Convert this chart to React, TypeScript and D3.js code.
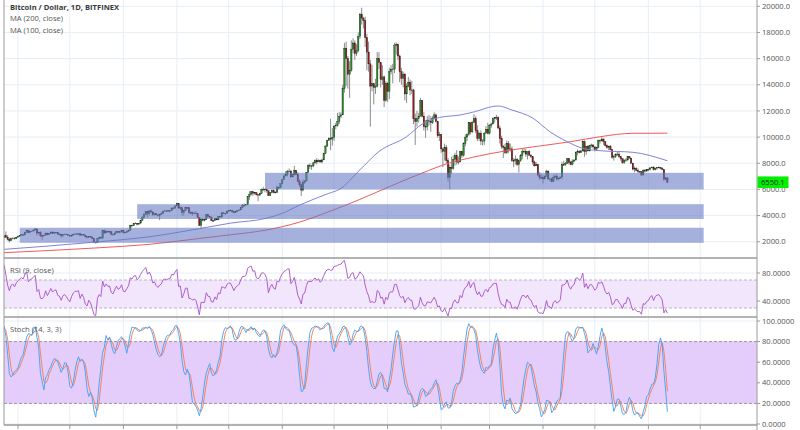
import React, { useMemo } from 'react';
import * as d3 from 'd3';

// ---------------- DATA ----------------
const title = 'Bitcoin / Dollar, 1D, BITFINEX';
const legendLabels = ['MA (200, close)', 'MA (100, close)'];
const rsiLabel = 'RSI (9, close)';
const stochLabel = 'Stoch (14, 3, 3)';

// month keys, each close/high/low row starts on the 1st of that month (daily candles)
const months = ['2017-05', '2017-06', '2017-07', '2017-08', '2017-09', '2017-10', '2017-11', '2017-12',
  '2018-01', '2018-02', '2018-03', '2018-04', '2018-05', '2018-06'];

const closes: number[][] = [
  [1420, 1452, 1490, 1537, 1508, 1545, 1555, 1690, 1720, 1770, 1840, 1700, 1760, 1770, 1710, 1740, 1810, 1880, 1970, 2050, 2045, 2140, 2290, 2470, 2350, 2190, 2080, 2240, 2280, 2230, 2350],
  [2420, 2490, 2540, 2520, 2700, 2870, 2700, 2800, 2820, 2900, 2980, 2660, 2720, 2470, 2450, 2500, 2660, 2530, 2620, 2740, 2650, 2700, 2710, 2590, 2570, 2470, 2560, 2580, 2540, 2480],
  [2430, 2510, 2570, 2600, 2600, 2610, 2500, 2560, 2510, 2380, 2340, 2410, 2360, 2230, 1970, 1930, 2230, 2320, 2270, 2840, 2670, 2810, 2740, 2760, 2580, 2530, 2670, 2800, 2720, 2760, 2880],
  [2720, 2710, 2800, 2890, 3250, 3220, 3380, 3420, 3340, 3420, 3630, 3850, 4060, 4310, 4160, 4360, 4280, 4090, 4150, 4050, 4000, 4090, 4140, 4320, 4360, 4350, 4380, 4380, 4580, 4570, 4740],
  [4920, 4580, 4600, 4230, 4370, 4600, 4600, 4230, 4230, 4160, 4190, 4150, 3870, 3250, 3690, 3680, 3680, 4080, 3910, 3890, 3620, 3610, 3790, 3670, 3930, 3890, 4210, 4190, 4160, 4340],
  [4400, 4400, 4320, 4220, 4330, 4370, 4430, 4610, 4780, 4780, 4830, 5440, 5640, 5820, 5700, 5760, 5600, 5570, 5700, 6000, 6010, 5980, 5900, 5520, 5750, 5900, 5780, 5750, 6150, 6130, 6450],
  [6750, 7030, 7160, 7380, 7400, 6950, 7120, 7460, 7140, 6620, 6360, 5950, 6560, 6640, 7300, 7820, 7790, 7800, 8030, 8200, 8100, 8230, 8100, 8250, 8750, 9300, 9750, 9900, 9850, 9950],
  [10850, 10900, 11200, 11600, 11700, 13700, 16800, 16000, 14800, 15100, 16700, 17200, 16400, 16600, 17700, 19400, 19100, 18900, 17600, 16500, 15600, 13900, 14100, 13800, 13900, 16000, 15700, 14400, 14600, 12800, 14100],
  [13500, 15000, 15200, 15200, 17000, 17100, 16200, 15000, 14500, 14800, 13300, 13900, 14200, 13600, 13600, 11400, 11200, 11400, 11600, 12800, 11600, 10800, 10800, 11300, 11200, 11100, 11400, 11700, 11200, 10100, 10200],
  [9100, 8900, 9200, 8200, 6900, 7700, 7600, 8300, 8600, 8100, 8100, 8900, 8600, 9500, 10000, 10200, 11100, 10400, 11100, 11400, 10500, 9900, 10300, 9700, 9700, 10300, 10600, 10300],
  [10900, 11000, 11400, 11500, 11500, 10700, 9900, 9300, 9200, 8800, 9500, 9100, 9100, 8200, 8200, 8300, 7900, 8200, 8600, 8900, 8900, 8700, 8900, 8600, 8500, 8100, 7800, 7900, 7100, 6900, 6900],
  [6800, 7000, 7400, 6800, 6800, 6600, 6900, 7000, 6800, 6850, 6950, 7900, 7900, 8000, 8350, 8050, 7900, 8150, 8250, 8850, 8900, 8800, 8950, 9650, 8900, 9300, 8950, 9350, 9400, 9250],
  [9050, 9200, 9750, 9700, 9850, 9650, 9350, 9200, 9300, 9050, 8450, 8500, 8700, 8700, 8500, 8350, 8050, 8250, 8250, 8500, 8400, 8000, 7550, 7600, 7450, 7350, 7350, 7100, 7450, 7400, 7500],
  [7530, 7650, 7700, 7500, 7630, 7670, 7690, 7620, 7520, 6780, 6880, 6550.1],
];

const highs: number[][] = [
  [1450, 1480, 1520, 1560, 1560, 1570, 1600, 1710, 1780, 1800, 1870, 1860, 1790, 1800, 1780, 1760, 1830, 1910, 2000, 2090, 2110, 2180, 2300, 2520, 2790, 2500, 2300, 2310, 2330, 2340, 2380],
  [2460, 2500, 2560, 2560, 2720, 2910, 2900, 2820, 2850, 2930, 3010, 2990, 2780, 2800, 2520, 2540, 2680, 2690, 2650, 2770, 2800, 2730, 2750, 2730, 2660, 2620, 2580, 2620, 2600, 2580],
  [2500, 2530, 2610, 2640, 2630, 2630, 2620, 2570, 2580, 2520, 2420, 2430, 2440, 2380, 2240, 2010, 2250, 2380, 2400, 2900, 2940, 2860, 2830, 2790, 2780, 2620, 2690, 2830, 2820, 2770, 2900],
  [2900, 2760, 2810, 2900, 3300, 3300, 3420, 3490, 3430, 3440, 3680, 3950, 4190, 4350, 4350, 4400, 4480, 4350, 4190, 4180, 4090, 4150, 4250, 4360, 4450, 4380, 4400, 4400, 4630, 4640, 4760],
  [4980, 4940, 4700, 4600, 4420, 4650, 4660, 4650, 4330, 4300, 4300, 4340, 4170, 3900, 3800, 3840, 3750, 4100, 4100, 4000, 3900, 3700, 3800, 3800, 3960, 3960, 4240, 4250, 4200, 4380],
  [4420, 4470, 4440, 4350, 4360, 4420, 4470, 4620, 4880, 4920, 4880, 5450, 5850, 5880, 5860, 5800, 5780, 5600, 5730, 6070, 6200, 6080, 6060, 5900, 5760, 5980, 6000, 5880, 6300, 6220, 6470],
  [6780, 7150, 7400, 7500, 7600, 7500, 7200, 7800, 7470, 7300, 6800, 6480, 6780, 6700, 7340, 7930, 8000, 7890, 8100, 8300, 8400, 8300, 8280, 8350, 8800, 9400, 9800, 9990, 11400, 10700],
  [10900, 11100, 11850, 11900, 11900, 14000, 17200, 17300, 16200, 15800, 17400, 17550, 17400, 17100, 18000, 19500, 19891, 19200, 19200, 17900, 17300, 15900, 15500, 14100, 14450, 16500, 16500, 15700, 15500, 14700, 14300],
  [14200, 15300, 15500, 15600, 17200, 17250, 17150, 16300, 15300, 15000, 14900, 14100, 14600, 14400, 14300, 13700, 11800, 12000, 11850, 13000, 12800, 11900, 11300, 11600, 11700, 11600, 11600, 11900, 11800, 11250, 10400],
  [10200, 9200, 9500, 9400, 8400, 7900, 8500, 8600, 8800, 9000, 8500, 8950, 8950, 9600, 10200, 10300, 11150, 11100, 11250, 11750, 11600, 10900, 10400, 10500, 9850, 10400, 10850, 11100],
  [11000, 11100, 11500, 11500, 11700, 11600, 10900, 10100, 9400, 9500, 9750, 9700, 9500, 9300, 8400, 8600, 8400, 8300, 8700, 9100, 9150, 9100, 8900, 9000, 8700, 8500, 8200, 8100, 7950, 7300, 7200],
  [7100, 7100, 7500, 7450, 6900, 6900, 7100, 7150, 7200, 6900, 6970, 8100, 8200, 8100, 8400, 8400, 8200, 8300, 8300, 8900, 9050, 9000, 9000, 9750, 9750, 9300, 9400, 9400, 9500, 9450],
  [9300, 9250, 9800, 9800, 9990, 9900, 9650, 9450, 9350, 9400, 9050, 8650, 8750, 8880, 8850, 8520, 8380, 8280, 8400, 8550, 8550, 8400, 8050, 7750, 7700, 7600, 7400, 7400, 7550, 7550, 7550],
  [7600, 7700, 7750, 7780, 7650, 7700, 7750, 7720, 7700, 7520, 6950, 6900],
];

const lows: number[][] = [
  [1380, 1410, 1440, 1480, 1480, 1500, 1530, 1540, 1660, 1700, 1740, 1680, 1690, 1730, 1650, 1690, 1720, 1800, 1860, 1960, 2000, 2030, 2140, 2290, 2300, 2100, 1950, 2060, 2180, 2150, 2200],
  [2300, 2400, 2460, 2470, 2510, 2690, 2640, 2680, 2760, 2800, 2880, 2450, 2620, 2350, 2150, 2400, 2490, 2500, 2510, 2610, 2600, 2590, 2680, 2530, 2480, 2300, 2370, 2500, 2510, 2450],
  [2400, 2400, 2500, 2560, 2560, 2580, 2480, 2470, 2500, 2330, 2250, 2300, 2320, 2200, 1950, 1850, 1920, 2180, 2240, 2260, 2620, 2650, 2700, 2700, 2480, 2450, 2520, 2660, 2700, 2620, 2700],
  [2620, 2650, 2680, 2780, 2860, 3160, 3200, 3370, 3250, 3320, 3400, 3620, 3820, 4050, 3850, 4000, 4200, 3980, 4000, 4030, 3930, 3650, 4090, 4130, 4300, 4300, 4330, 4250, 4340, 4500, 4550],
  [4700, 4500, 4400, 4000, 4000, 4340, 4500, 4110, 4100, 4000, 4130, 4100, 3800, 3200, 2970, 3560, 3550, 3660, 3850, 3850, 3600, 3520, 3580, 3660, 3670, 3860, 3880, 4150, 4050, 4150],
  [4280, 4340, 4200, 4170, 4180, 4320, 4360, 4420, 4570, 4700, 4780, 4820, 5200, 5550, 5500, 5600, 5530, 5100, 5500, 5640, 5890, 5780, 5750, 5500, 5500, 5700, 5700, 5700, 5720, 6000, 6100],
  [6400, 6750, 7000, 7000, 7300, 6900, 6960, 7050, 7080, 6580, 6200, 5500, 5850, 6420, 6640, 7300, 7550, 7500, 7700, 7950, 7900, 8100, 8050, 8000, 8250, 8700, 9350, 9700, 9000, 9350],
  [9700, 10600, 10800, 11000, 11450, 11700, 13400, 13900, 13700, 13000, 15000, 16400, 15900, 16200, 16500, 17500, 18600, 18300, 16900, 15100, 15000, 10800, 13500, 12500, 13300, 13800, 15200, 13800, 14000, 12300, 12700],
  [12700, 12900, 14800, 14100, 14900, 16300, 15900, 14200, 14000, 13800, 12800, 12600, 13800, 13200, 13300, 11000, 9400, 10800, 11100, 11600, 11500, 10500, 9950, 10500, 10900, 10400, 11000, 11500, 11100, 9950, 9700],
  [8800, 7700, 8200, 8000, 6600, 6000, 7200, 7500, 7800, 7900, 7900, 8100, 8400, 8500, 9300, 9700, 10100, 10200, 10300, 11100, 10300, 9700, 9700, 9400, 9350, 9400, 10300, 10200],
  [10200, 10700, 11000, 11100, 11300, 10600, 9500, 9100, 8400, 8700, 8700, 8800, 8900, 8100, 7700, 7900, 7800, 7300, 8100, 8300, 8800, 8500, 8300, 8600, 8400, 7900, 7750, 7800, 7000, 6700, 6800],
  [6450, 6800, 7000, 6750, 6600, 6550, 6600, 6900, 6650, 6700, 6850, 6800, 7800, 7800, 7950, 7900, 7850, 7850, 8100, 8200, 8600, 8750, 8800, 8900, 8500, 8650, 8900, 8900, 9200, 9100],
  [8900, 8950, 9150, 9500, 9700, 9400, 9250, 9100, 9000, 9000, 8350, 8200, 8400, 8550, 8400, 8200, 7950, 7950, 8100, 8200, 8350, 7950, 7450, 7300, 7400, 7250, 7300, 7050, 7080, 7300, 7350],
  [7400, 7450, 7600, 7450, 7450, 7500, 7650, 7550, 7480, 6650, 6700, 6500],
];
const firstOpen = 1348;

// moving averages (date, value)
const ma200Points: [string, number][] = [
  ['2017-05-20', 1140], ['2017-07-18', 1540], ['2017-08-16', 1800], ['2017-09-14', 2250], ['2017-10-02', 2530],
  ['2017-10-23', 2900], ['2017-11-11', 3500], ['2017-11-28', 4300], ['2017-12-16', 5240], ['2018-01-02', 6210],
  ['2018-01-21', 7250], ['2018-02-05', 7990], ['2018-02-19', 8450], ['2018-03-11', 8960], ['2018-03-30', 9320],
  ['2018-04-17', 9650], ['2018-05-04', 10030], ['2018-05-23', 10290], ['2018-06-12', 10300],
];
const ma100Points: [string, number][] = [
  ['2017-05-20', 1380], ['2017-07-18', 2000], ['2017-08-16', 2380], ['2017-09-14', 3000], ['2017-10-02', 3420],
  ['2017-10-23', 3800], ['2017-11-01', 4170], ['2017-11-11', 4800], ['2017-11-28', 5700], ['2017-12-04', 6000],
  ['2017-12-16', 7500], ['2017-12-27', 8900], ['2018-01-12', 10030], ['2018-01-21', 11000], ['2018-01-31', 11500],
  ['2018-02-12', 11690], ['2018-02-19', 11890], ['2018-03-06', 12380], ['2018-03-14', 12070], ['2018-03-26', 11460],
  ['2018-04-05', 10410], ['2018-04-15', 9650], ['2018-04-24', 9140], ['2018-05-04', 8960], ['2018-05-23', 8840],
  ['2018-06-12', 8190],
];

// support zones: [from, to, low, high]
const supportZones: [string, string, number, number][] = [
  ['2017-10-22', '2018-07-03', 6000, 7270],
  ['2017-08-09', '2018-07-03', 3740, 4870],
  ['2017-06-02', '2018-07-03', 1920, 3070],
];

const priceTicks = [2000, 4000, 6000, 8000, 10000, 12000, 14000, 16000, 18000, 20000];
const rsiTicks = [40, 80];
const rsiBand = [30, 70];
const stochTicks = [0, 20, 40, 60, 80, 100];
const stochBand = [20, 80];
const lastPrice = 6550.1;

// ---------------- HELPERS ----------------
const parseDay = (s: string) => {
  const [y, m, d] = s.split('-').map(Number);
  return new Date(Date.UTC(y, m - 1, d));
};

type Candle = { date: Date; o: number; h: number; l: number; c: number };

function buildCandles(): Candle[] {
  const out: Candle[] = [];
  let prev = firstOpen;
  months.forEach((mk, mi) => {
    const [y, m] = mk.split('-').map(Number);
    closes[mi].forEach((c, di) => {
      const o = prev;
      const h = Math.max(highs[mi][di], o, c);
      const l = Math.min(lows[mi][di], o, c);
      out.push({ date: new Date(Date.UTC(y, m - 1, di + 1)), o, h, l, c });
      prev = c;
    });
  });
  return out;
}

function rsiCalc(cl: number[], n: number): (number | null)[] {
  const out: (number | null)[] = cl.map(() => null);
  let ag = 0, al = 0;
  for (let i = 1; i < cl.length; i++) {
    const ch = cl[i] - cl[i - 1];
    const g = Math.max(ch, 0), l = Math.max(-ch, 0);
    if (i <= n) {
      ag += g / n; al += l / n;
      if (i === n) out[i] = al === 0 ? 100 : 100 - 100 / (1 + ag / al);
    } else {
      ag = (ag * (n - 1) + g) / n;
      al = (al * (n - 1) + l) / n;
      out[i] = al === 0 ? 100 : 100 - 100 / (1 + ag / al);
    }
  }
  return out;
}

function sma(arr: (number | null)[], n: number): (number | null)[] {
  return arr.map((_, i) => {
    if (i < n - 1) return null;
    const w = arr.slice(i - n + 1, i + 1);
    if (w.some((v) => v == null)) return null;
    return (w as number[]).reduce((a, b) => a + b, 0) / n;
  });
}

function stochCalc(cs: Candle[], n: number, ks: number, ds: number) {
  const raw: (number | null)[] = cs.map((c, i) => {
    if (i < n - 1) return null;
    const w = cs.slice(i - n + 1, i + 1);
    const hh = d3.max(w, (d) => d.h)!;
    const ll = d3.min(w, (d) => d.l)!;
    return hh === ll ? 50 : (100 * (c.c - ll)) / (hh - ll);
  });
  const k = sma(raw, ks);
  const d = sma(k, ds);
  return { k, d };
}

// ---------------- LAYOUT ----------------
const W = 800, H = 430;
const LEFT = 4, AXIS_X = 757;
const MAIN_BOTTOM = 258, RSI_BOTTOM = 317, STOCH_BOTTOM = 425;
const FONT = '"Open Sans", "Liberation Sans", Arial, sans-serif';

export default function App() {
  const model = useMemo(() => {
    const candles = buildCandles();
    const x = d3.scaleUtc().domain([new Date(Date.UTC(2017, 5, 1)), new Date(Date.UTC(2018, 6, 1))]).range([18, 700.2]);
    const y = d3.scaleLinear().domain([0, 20000]).range([267.9, 6.3]);
    const yR = d3.scaleLinear().domain([40, 80]).range([301, 273]);
    const yS = d3.scaleLinear().domain([0, 100]).range([424, 321]);
    const rsi = rsiCalc(candles.map((c) => c.c), 9);
    const st = stochCalc(candles, 14, 3, 3);
    const monthLines = d3.utcMonth.range(new Date(Date.UTC(2017, 5, 1)), new Date(Date.UTC(2018, 7, 1)));
    return { candles, x, y, yR, yS, rsi, st, monthLines };
  }, []);

  const { candles, x, y, yR, yS, rsi, st, monthLines } = model;

  const maLine = d3.line<[string, number]>()
    .x((d) => x(parseDay(d[0])))
    .y((d) => y(d[1]))
    .curve(d3.curveMonotoneX);

  const idxLine = (vals: (number | null)[], sc: d3.ScaleLinear<number, number>) =>
    d3.line<number | null>()
      .defined((v) => v != null)
      .x((_, i) => x(candles[i].date))
      .y((v) => sc(v as number))(vals) || '';

  const gridColor = '#e7eef6';
  const frame = '#9a9a9a';
  const bodyW = 1.4;

  return (
    <svg width={W} height={H} style={{ position: 'fixed', left: 0, top: 0, background: '#fff' }} fontFamily={FONT}>
      <defs>
        <clipPath id="cMain"><rect x={LEFT} y={0} width={AXIS_X - LEFT} height={MAIN_BOTTOM} /></clipPath>
        <clipPath id="cRsi"><rect x={LEFT} y={MAIN_BOTTOM} width={AXIS_X - LEFT} height={RSI_BOTTOM - MAIN_BOTTOM} /></clipPath>
        <clipPath id="cSt"><rect x={LEFT} y={RSI_BOTTOM} width={AXIS_X - LEFT} height={STOCH_BOTTOM - RSI_BOTTOM} /></clipPath>
      </defs>
      <rect x={0} y={0} width={W} height={H} fill="#fff" />

      {/* grid */}
      {monthLines.map((m, i) => (
        <line key={'v' + i} x1={x(m)} x2={x(m)} y1={0} y2={STOCH_BOTTOM} stroke={gridColor} strokeWidth={1} />
      ))}
      {priceTicks.map((t) => (
        <line key={'h' + t} x1={LEFT} x2={AXIS_X} y1={y(t)} y2={y(t)} stroke={gridColor} />
      ))}
      {rsiTicks.map((t) => (
        <line key={'hr' + t} x1={LEFT} x2={AXIS_X} y1={yR(t)} y2={yR(t)} stroke={gridColor} />
      ))}
      {stochTicks.map((t) => (
        <line key={'hs' + t} x1={LEFT} x2={AXIS_X} y1={yS(t)} y2={yS(t)} stroke={gridColor} />
      ))}

      {/* indicator bands */}
      <rect x={LEFT} width={AXIS_X - LEFT} y={yR(rsiBand[1])} height={yR(rsiBand[0]) - yR(rsiBand[1])} fill="#f2e6fc" />
      {rsiBand.map((b) => (
        <line key={'rb' + b} x1={LEFT} x2={AXIS_X} y1={yR(b)} y2={yR(b)} stroke="#c0b2c8" strokeDasharray="3,2" />
      ))}
      <rect x={LEFT} width={AXIS_X - LEFT} y={yS(stochBand[1])} height={yS(stochBand[0]) - yS(stochBand[1])} fill="#e5cdfb" />
      {stochBand.map((b) => (
        <line key={'sb' + b} x1={LEFT} x2={AXIS_X} y1={yS(b)} y2={yS(b)} stroke="#9e93a6" strokeDasharray="3,2" />
      ))}

      {/* main panel */}
      <g clipPath="url(#cMain)">
        {candles.map((c, i) => {
          const cx = x(c.date);
          const up = c.c >= c.o;
          const top = y(Math.max(c.o, c.c));
          const bot = y(Math.min(c.o, c.c));
          return (
            <g key={'c' + i}>
              <line x1={cx} x2={cx} y1={y(c.h)} y2={y(c.l)} stroke="#6e6e6e" strokeWidth={0.8} />
              <rect x={cx - bodyW / 2} y={top} width={bodyW} height={Math.max(bot - top, 0.6)}
                fill={up ? '#1f9a1f' : '#a01616'} stroke="#1c1c1c" strokeWidth={0.35} />
            </g>
          );
        })}
        <path d={maLine(ma200Points) || ''} fill="none" stroke="#f25a5a" strokeWidth={1} />
        <path d={maLine(ma100Points) || ''} fill="none" stroke="#7f84d6" strokeWidth={1} />
        {supportZones.map((z, i) => (
          <rect key={'z' + i} x={x(parseDay(z[0]))} width={x(parseDay(z[1])) - x(parseDay(z[0]))}
            y={y(z[3])} height={y(z[2]) - y(z[3])} fill="rgb(100,120,195)" fillOpacity={0.58} />
        ))}
      </g>

      {/* RSI */}
      <g clipPath="url(#cRsi)">
        <path d={idxLine(rsi, yR)} fill="none" stroke="#a650c6" strokeWidth={0.9} />
      </g>

      {/* Stoch */}
      <g clipPath="url(#cSt)">
        <path d={idxLine(st.d, yS)} fill="none" stroke="#f27a4e" strokeWidth={0.9} />
        <path d={idxLine(st.k, yS)} fill="none" stroke="#3f9ff2" strokeWidth={0.9} />
      </g>

      {/* frame */}
      <line x1={LEFT} x2={LEFT} y1={0} y2={STOCH_BOTTOM} stroke={frame} strokeWidth={1} />
      {[MAIN_BOTTOM, RSI_BOTTOM, STOCH_BOTTOM].map((yy) => (
        <line key={'f' + yy} x1={LEFT} x2={AXIS_X} y1={yy} y2={yy} stroke={frame} strokeWidth={1.5} />
      ))}
      <line x1={AXIS_X} x2={AXIS_X} y1={0} y2={H} stroke={frame} strokeWidth={1} />
      {monthLines.map((m, i) => (
        <line key={'bt' + i} x1={x(m)} x2={x(m)} y1={STOCH_BOTTOM} y2={STOCH_BOTTOM + 4} stroke={frame} />
      ))}

      {/* right axis labels */}
      {priceTicks.map((t) => (
        <g key={'pl' + t}>
          <line x1={AXIS_X} x2={AXIS_X + 3} y1={y(t)} y2={y(t)} stroke={frame} />
          <text x={AXIS_X + 5} y={y(t)} dy="0.35em" fontSize={7.6} fill="#555">{t.toFixed(1)}</text>
        </g>
      ))}
      {rsiTicks.map((t) => (
        <g key={'rl' + t}>
          <line x1={AXIS_X} x2={AXIS_X + 3} y1={yR(t)} y2={yR(t)} stroke={frame} />
          <text x={AXIS_X + 5} y={yR(t)} dy="0.35em" fontSize={7.6} fill="#555">{t.toFixed(4)}</text>
        </g>
      ))}
      {stochTicks.map((t) => (
        <g key={'sl' + t}>
          <line x1={AXIS_X} x2={AXIS_X + 3} y1={yS(t)} y2={yS(t)} stroke={frame} />
          <text x={AXIS_X + 5} y={yS(t)} dy="0.35em" fontSize={7.6} fill="#555">{t.toFixed(4)}</text>
        </g>
      ))}

      {/* last price label */}
      <rect x={AXIS_X + 0.5} y={y(lastPrice) - 5.8} width={31} height={11.6} fill="#00f000" />
      <text x={AXIS_X + 4} y={y(lastPrice)} dy="0.35em" fontSize={7.6} fill="#1a1a1a">{lastPrice.toFixed(1)}</text>

      {/* titles */}
      <text x={10} y={9.5} fontSize={7.6} fontWeight="bold" fill="#3a3a3a">{title}</text>
      {legendLabels.map((l, i) => (
        <text key={l} x={10} y={20.8 + i * 12} fontSize={7.6} fill="#555">{l}</text>
      ))}
      <text x={10} y={272.5} fontSize={7.6} fill="#555">{rsiLabel}</text>
      <text x={10} y={331.5} fontSize={7.6} fill="#555">{stochLabel}</text>
    </svg>
  );
}
